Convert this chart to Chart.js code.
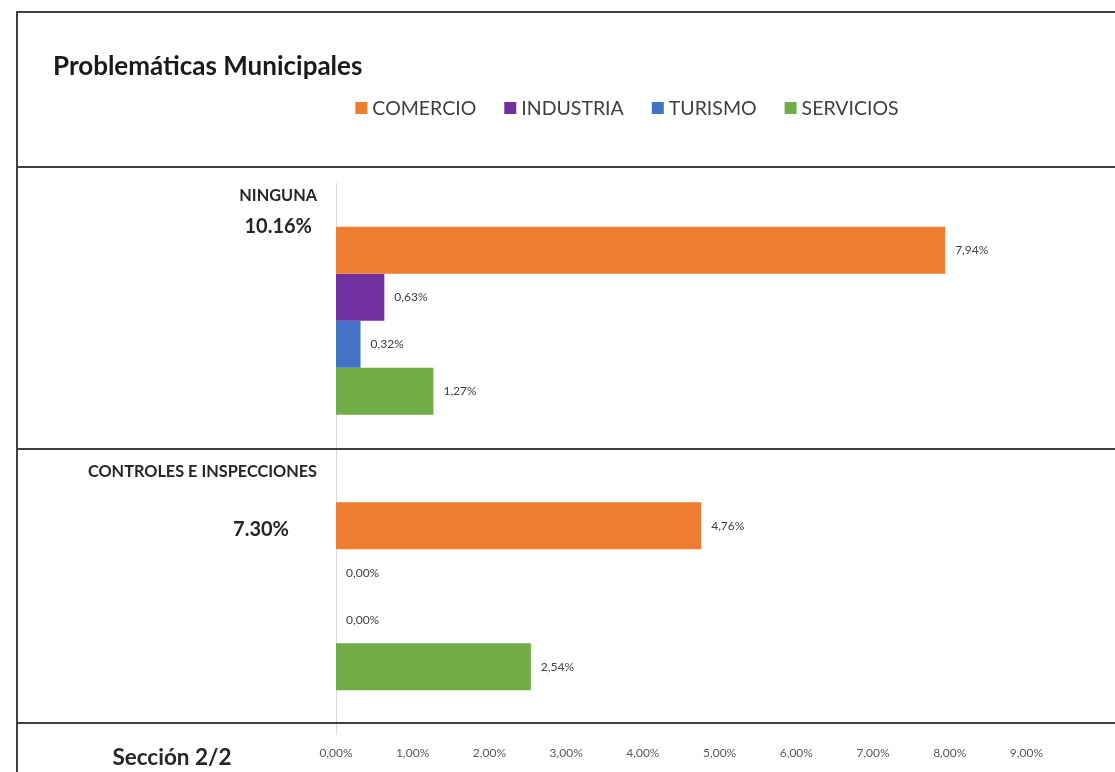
<!DOCTYPE html>
<html><head><meta charset="utf-8">
<script src="https://cdn.jsdelivr.net/npm/chart.js@4.4.1/dist/chart.umd.min.js"></script>
<style>html,body{margin:0;padding:0;background:#fff;} canvas{display:block;}</style>
</head><body>
<canvas id="c" width="1115" height="772"></canvas>
<script>
// ---- data ----
const categories = ['NINGUNA', 'CONTROLES E INSPECCIONES'];
const categoryTotals = ['10.16%', '7.30%'];
const seriesNames = ['COMERCIO', 'INDUSTRIA', 'TURISMO', 'SERVICIOS'];
const comercio = [7.94, 4.76];
const industria = [0.63, 0.00];
const turismo = [0.32, 0.00];
const servicios = [1.27, 2.54];
const xTickLabels = ['0,00%', '1,00%', '2,00%', '3,00%', '4,00%', '5,00%', '6,00%', '7,00%', '8,00%', '9,00%'];
const chartTitle = 'Problemáticas Municipales';
const sectionLabel = 'Sección 2/2';

// ---- styles / layout ----
const seriesColors = ['#ED7D31', '#7030A0', '#4472C4', '#70AD47'];
const FONT = "Lato, 'Open Sans', sans-serif";
const nameOffset = [13, 13.5];      // from top of category band
const totalOffset = [44, 71.5];
const totalRight = [312, 289];

const seriesValues = [comercio, industria, turismo, servicios];

const decor = {
  id: 'decor',
  beforeDraw(chart) {
    const ctx = chart.ctx;
    ctx.save();
    ctx.fillStyle = '#ffffff';
    ctx.fillRect(0, 0, chart.width, chart.height);
    ctx.restore();
  },
  afterDraw(chart) {
    const { ctx, scales: { y }, chartArea } = chart;
    ctx.save();
    // frame
    ctx.strokeStyle = '#3f3f3f';
    ctx.lineWidth = 2;
    ctx.beginPath();
    ctx.moveTo(17, 772); ctx.lineTo(17, 12); ctx.lineTo(1115, 12);
    [167, 449, 723].forEach(yy => { ctx.moveTo(17, yy); ctx.lineTo(1115, yy); });
    ctx.stroke();

    // legend
    ctx.font = `19.5px ${FONT}`;
    ctx.textBaseline = 'middle';
    ctx.textAlign = 'left';
    const box = 12, gap = 5, spacing = 28;
    const items = chart.data.datasets.map(ds => ({ label: ds.label, color: ds.backgroundColor, w: ctx.measureText(ds.label).width }));
    const total = items.reduce((s, it) => s + box + gap + it.w, 0) + spacing * (items.length - 1);
    let lx = 627 - total / 2;
    const ly = 108;
    items.forEach(it => {
      ctx.fillStyle = it.color;
      ctx.fillRect(lx, ly - box / 2, box, box);
      ctx.fillStyle = '#404040';
      ctx.fillText(it.label, lx + box + gap, ly + 1);
      lx += box + gap + it.w + spacing;
    });

    // category labels
    const band = (chartArea.bottom - chartArea.top) / categories.length;
    ctx.fillStyle = '#262626';
    ctx.textAlign = 'right';
    categories.forEach((name, i) => {
      const top = y.getPixelForValue(i) - band / 2;
      ctx.font = `bold 16.3px ${FONT}`;
      ctx.fillText(name, chartArea.left - 19, top + nameOffset[i]);
      ctx.font = `bold 20px ${FONT}`;
      ctx.fillText(categoryTotals[i], totalRight[i], top + totalOffset[i]);
    });

    // section label
    ctx.font = `bold 22.5px ${FONT}`;
    ctx.textAlign = 'center';
    ctx.fillText(sectionLabel, 172, 758);

    // value labels
    ctx.font = `12px ${FONT}`;
    ctx.fillStyle = '#404040';
    ctx.textAlign = 'left';
    chart.data.datasets.forEach((ds, di) => {
      chart.getDatasetMeta(di).data.forEach((bar, i) => {
        ctx.fillText(ds.data[i].toFixed(2).replace('.', ',') + '%', bar.x + 10, bar.y);
      });
    });
    ctx.restore();
  }
};

new Chart(document.getElementById('c'), {
  type: 'bar',
  data: {
    labels: categories,
    datasets: seriesNames.map((n, i) => ({
      label: n,
      data: seriesValues[i],
      backgroundColor: seriesColors[i],
      borderWidth: 0,
      barPercentage: 1,
      categoryPercentage: 0.683
    }))
  },
  options: {
    responsive: false,
    animation: false,
    devicePixelRatio: 1,
    indexAxis: 'y',
    layout: { padding: { left: 53, right: 3, top: 0, bottom: 0 } },
    plugins: {
      legend: { display: false },
      tooltip: { enabled: false },
      title: {
        display: true,
        text: chartTitle,
        align: 'start',
        color: '#1a1a1a',
        font: { family: FONT, size: 26, weight: 'bold', lineHeight: 1.2 },
        padding: { top: 51.4, bottom: 100.4 }
      }
    },
    scales: {
      x: {
        type: 'linear',
        min: 0,
        max: 10,
        grid: { display: false, drawTicks: false },
        border: { display: false },
        ticks: {
          stepSize: 1,
          autoSkip: false,
          maxRotation: 0,
          padding: 11.8,
          color: '#595959',
          font: { family: FONT, size: 12 },
          callback: (v, i) => xTickLabels[i] ?? ''
        }
      },
      y: {
        type: 'category',
        grid: { display: false, drawTicks: false },
        border: { display: true, color: '#d9d9d9', width: 1 },
        ticks: { display: false },
        afterFit: (s) => { s.width = 283; }
      }
    }
  },
  plugins: [decor]
});
</script>
</body></html>
